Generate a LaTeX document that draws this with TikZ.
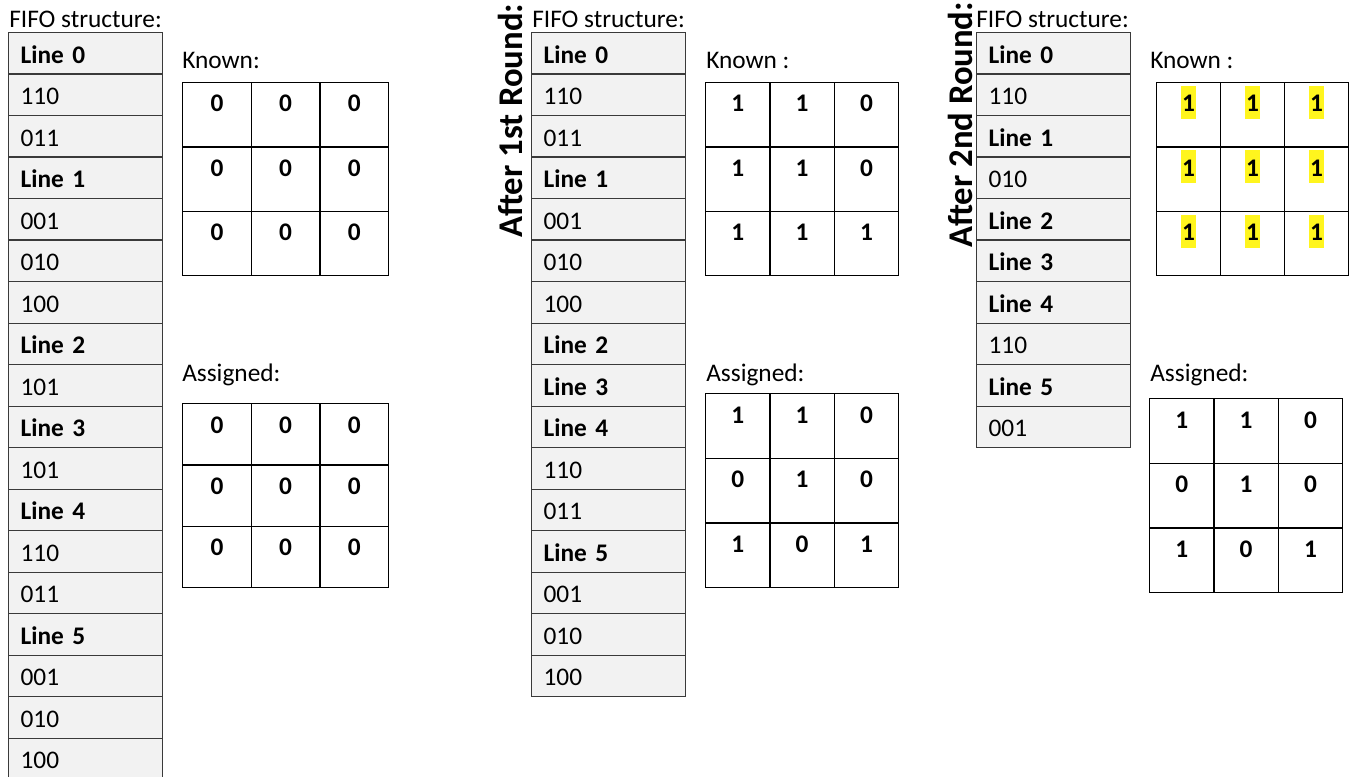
\documentclass[tikz,border=0pt]{standalone}
\usepackage{fontspec}
\setmainfont{Carlito}
\usetikzlibrary{calc}
\definecolor{fifogray}{HTML}{F2F2F2}
\definecolor{fifoline}{HTML}{3A3A3A}
\definecolor{hly}{RGB}{255,245,30}
\newcommand\Ln[1]{\textbf{Line #1}}
\newcommand\lblfont{\fontsize{19}{22}\selectfont}
\newcommand\numfont{\fontsize{19}{22}\selectfont\bfseries}
\newcommand\ttlfont{\fontsize{26}{31}\selectfont\bfseries}
\tikzset{
  fcell/.style={draw=fifoline, fill=fifogray, line width=0.9pt, anchor=north west,
    text width=97.5pt, align=left, inner xsep=9pt, inner ysep=0pt,
    minimum height=31.125pt, text height=14.6pt, text depth=0pt, font=\lblfont},
  gcell/.style={draw=black, line width=0.9pt, anchor=north west, inner sep=0pt},
  num/.style={anchor=base, inner sep=0pt, inner xsep=0.6pt, text height=19.5pt,
    text depth=5.25pt, font=\numfont},
  numh/.style={num, fill=hly},
  lbl/.style={anchor=base west, inner sep=0pt, font=\lblfont},
  ttl/.style={anchor=base west, inner sep=0pt, rotate=90, font=\ttlfont}
}
\newcommand\fifo[3]{%
  \foreach [count=\i from 0] \t in {#3} {
    \node[fcell] (#1-\i) at (#2,{32+\i*41.5}) {\t};
  }}
\newcommand\mygrid[7]{%
  \pgfmathsetmacro\gw{(#4-#2)/3}
  \pgfmathsetmacro\gh{(#5-#3)/3}
  \foreach [count=\k from 0] \v in {#6} {
    \pgfmathtruncatemacro\gr{\k/3}
    \pgfmathtruncatemacro\gc{\k-3*\gr}
    \node[gcell, minimum width=\gw*0.75pt, minimum height=\gh*0.75pt] (#1-\k) at ({#2+\gc*\gw},{#3+\gr*\gh}) {};
    \node[#7] (#1-\k-v) at ($(#1-\k.north)+(0,30)$) {\v};
  }}
\begin{document}
\begin{tikzpicture}[x=0.75pt,y=-0.75pt]
\clip (0,0) rectangle (1352,777);
\fill[white] (0,0) rectangle (1352,777);
% left block
\node[lbl] (fl) at (9,28) {FIFO structure:};
\fifo{A}{8}{\Ln0,110,011,\Ln1,001,010,100,\Ln2,101,\Ln3,101,\Ln4,110,011,\Ln5,001,010,100}
\node[lbl] (kl) at (182,69) {Known:};
\mygrid{AK}{182}{82}{388}{275}{0,0,0,0,0,0,0,0,0}{num}
\node[lbl] (al) at (182,381.5) {Assigned:};
\mygrid{AA}{182}{403}{388}{587}{0,0,0,0,0,0,0,0,0}{num}
% middle block
\node[ttl] (t1) at (522,238) {After 1st Round:};
\node[lbl] (fm) at (532,28) {FIFO structure:};
\fifo{B}{531}{\Ln0,110,011,\Ln1,001,010,100,\Ln2,\Ln3,\Ln4,110,011,\Ln5,001,010,100}
\node[lbl] (km) at (706,69) {Known :};
\mygrid{BK}{705}{82}{898}{275}{1,1,0,1,1,0,1,1,1}{num}
\node[lbl] (am) at (706,381) {Assigned:};
\mygrid{BA}{705}{393}{898}{587}{1,1,0,0,1,0,1,0,1}{num}
% right block
\node[ttl] (t2) at (972,248) {After 2nd Round:};
\node[lbl] (fr) at (976,28) {FIFO structure:};
\fifo{C}{976}{\Ln0,110,\Ln1,010,\Ln2,\Ln3,\Ln4,110,\Ln5,001}
\node[lbl] (kr) at (1150,69) {Known :};
\mygrid{CK}{1156}{82}{1348}{275}{1,1,1,1,1,1,1,1,1}{numh}
\node[lbl] (ar) at (1150,381) {Assigned:};
\mygrid{CA}{1149}{398}{1342}{592}{1,1,0,0,1,0,1,0,1}{num}
\end{tikzpicture}
\end{document}
